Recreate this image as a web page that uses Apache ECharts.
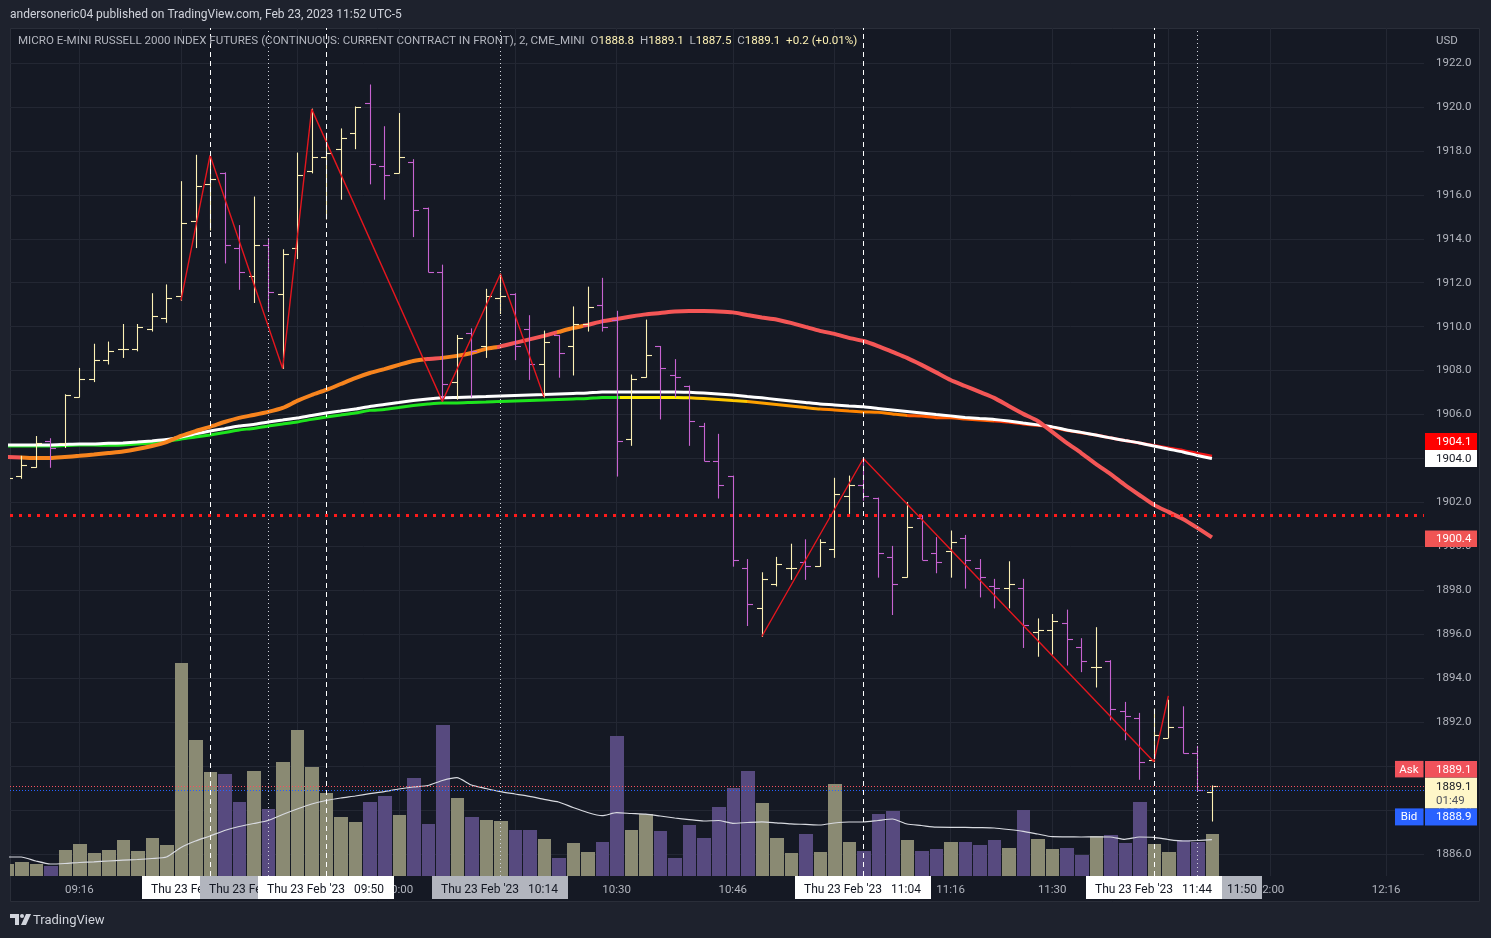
<!DOCTYPE html>
<html><head><meta charset="utf-8">
<script src="https://cdn.jsdelivr.net/npm/echarts@6/dist/echarts.min.js"></script>
<style>html,body{margin:0;padding:0;background:#1e222d;}#c{width:1491px;height:938px;}</style>
</head><body><div id="c"></div>
<script>
// ---------------- DATA ----------------
const times = [
'09:06','09:08','09:10','09:12','09:14','09:16','09:18','09:20','09:22','09:24',
'09:26','09:28','09:30','09:32','09:34','09:36','09:38','09:40','09:42','09:44',
'09:46','09:48','09:50','09:52','09:54','09:56','09:58','10:00','10:02','10:04',
'10:06','10:08','10:10','10:12','10:14','10:16','10:18','10:20','10:22','10:24',
'10:26','10:28','10:30','10:32','10:34','10:36','10:38','10:40','10:42','10:44',
'10:46','10:48','10:50','10:52','10:54','10:56','10:58','11:00','11:02','11:04',
'11:06','11:08','11:10','11:12','11:14','11:16','11:18','11:20','11:22','11:24',
'11:26','11:28','11:30','11:32','11:34','11:36','11:38','11:40','11:42','11:44',
'11:46','11:48','11:50','11:52'];
const opens = [
1902.9,1903.2,1903.6,1904.8,1904.7,1906.8,1907.6,1908.5,1909.0,1909.0,
1909.9,1910.4,1911.4,1914.8,1916.5,1917.0,1913.6,1912.3,1913.7,1911.5,
1913.6,1917.1,1917.7,1918.1,1918.8,1920.2,1917.3,1917.0,1917.5,1915.4,
1912.5,1907.5,1909.7,1909.1,1911.3,1911.5,1909.9,1908.3,1909.6,1909.1,
1910.1,1911.0,1910.3,1904.9,1907.7,1909.1,1907.8,1907.3,1905.5,1903.9,
1903.2,1899.0,1897.2,1898.3,1899.0,1899.3,1899.1,1899.9,1902.3,1902.8,
1902.2,1899.5,1898.6,1901.3,1899.7,1899.8,1900.4,1899.0,1898.2,1898.1,
1898.1,1896.1,1896.2,1896.5,1895.4,1894.5,1894.8,1892.5,1892.2,1890.3,
1891.3,1891.8,1890.6,1888.8];
const highs = [
1903.3,1904.1,1905.0,1904.9,1906.9,1908.1,1909.2,1909.3,1910.1,1910.1,
1911.5,1911.9,1916.6,1917.8,1917.8,1917.0,1914.6,1915.9,1914.0,1913.5,
1917.9,1919.9,1918.8,1919.0,1920.0,1921.0,1919.1,1919.7,1917.6,1915.4,
1912.8,1909.6,1909.9,1911.7,1912.4,1911.5,1910.5,1909.8,1909.6,1910.9,
1911.8,1912.2,1910.7,1907.8,1910.3,1909.1,1908.5,1907.3,1905.6,1905.1,
1903.2,1899.4,1898.8,1899.5,1900.1,1900.3,1900.3,1903.1,1903.2,1904.0,
1902.2,1900.0,1902.0,1901.4,1900.4,1900.7,1900.5,1899.4,1898.5,1899.3,
1898.5,1896.7,1896.9,1897.1,1895.8,1896.3,1894.8,1892.9,1892.4,1892.6,
1893.0,1892.7,1890.9,1889.1];
const lows = [
1902.8,1903.1,1903.6,1903.6,1904.5,1906.8,1907.5,1908.3,1908.6,1908.9,
1909.8,1910.2,1911.2,1913.6,1914.4,1912.9,1911.7,1911.1,1910.7,1908.1,
1913.1,1917.0,1914.9,1915.8,1918.1,1916.5,1915.8,1917.0,1914.1,1912.5,
1906.6,1906.7,1906.8,1908.6,1910.6,1908.5,1907.6,1906.8,1907.7,1907.8,
1909.8,1909.8,1903.2,1904.6,1907.7,1905.8,1906.8,1904.6,1903.9,1902.2,
1899.1,1896.4,1895.9,1898.2,1898.5,1898.5,1899.1,1899.5,1901.5,1902.1,
1898.6,1896.9,1898.6,1899.4,1898.8,1898.6,1898.1,1897.7,1897.2,1897.2,
1895.4,1895.0,1895.1,1894.6,1894.3,1893.6,1892.1,1891.2,1889.4,1890.2,
1891.3,1890.6,1888.9,1887.5];
const closes = [
1903.1,1903.7,1904.7,1904.5,1906.9,1907.6,1908.5,1908.9,1909.0,1910.0,
1910.5,1911.3,1914.7,1916.4,1916.7,1913.7,1912.5,1913.7,1911.6,1913.3,
1916.9,1917.7,1917.9,1918.6,1920.0,1917.4,1916.9,1917.7,1915.3,1912.5,
1907.4,1909.5,1908.9,1911.4,1911.4,1909.1,1908.3,1909.3,1908.8,1910.1,
1910.9,1910.0,1904.8,1907.6,1908.7,1908.1,1907.7,1905.7,1903.9,1902.8,
1899.4,1897.4,1898.5,1899.2,1899.0,1899.1,1900.2,1902.4,1902.8,1902.3,
1899.7,1898.3,1900.9,1899.4,1899.3,1900.2,1899.4,1898.6,1898.1,1898.3,
1896.4,1896.2,1896.6,1895.8,1894.8,1894.5,1892.6,1892.3,1890.2,1891.4,
1891.8,1890.6,1888.9,1889.1];
const volumes = [
12,14,12,10,26,32,23,26,36,25,
38,31,213,136,104,102,74,105,67,114,
146,109,83,59,54,74,80,61,98,52,
151,78,59,56,55,46,46,37,18,33,
24,34,140,46,62,45,18,51,38,69,
88,105,73,38,23,42,24,92,34,25,
62,65,36,25,27,34,34,31,36,28,
66,37,27,28,21,40,41,33,74,32,
24,36,34,42];
const volumeMA = [
19,19,15,12,12.5,13.5,14.2,15,15.8,16.5,
17.5,19,28.5,35,40,45.5,49.5,52.5,55.5,61.5,
67,72,75.5,78,80,82.3,84.4,87,89,90.5,
95.5,98.3,91,87.5,84.3,82,79.7,76.7,74,68.5,
63.5,60.3,63.3,62.5,61.8,60,58,56.4,55,55.5,
52.7,53.5,54.2,53.2,52.1,51.6,51,53,54,54,
55.5,57,52,50.5,48.8,48.7,48.7,48.4,48,46.5,
44.7,42,39.3,39.2,39,39.1,39,36.7,39,38.7,
36.5,35,35.5,36.3];
const maFast = [
1904.07,1904.05,1904.02,1904.02,1904.07,1904.12,1904.18,1904.25,1904.32,1904.43,
1904.57,1904.75,1905.03,1905.25,1905.44,1905.66,1905.85,1905.98,1906.12,1906.30,
1906.62,1906.89,1907.12,1907.39,1907.66,1907.89,1908.07,1908.26,1908.44,1908.53,
1908.58,1908.67,1908.80,1908.99,1909.10,1909.26,1909.42,1909.58,1909.76,1909.94,
1910.08,1910.24,1910.35,1910.46,1910.56,1910.62,1910.69,1910.71,1910.71,1910.69,
1910.65,1910.53,1910.42,1910.33,1910.17,1909.99,1909.81,1909.67,1909.49,1909.35,
1909.12,1908.85,1908.58,1908.26,1907.92,1907.57,1907.30,1907.03,1906.76,1906.39,
1906.03,1905.71,1905.21,1904.71,1904.25,1903.75,1903.30,1902.80,1902.34,1901.89,
1901.57,1901.25,1900.84,1900.41];
const maWhite = [
1904.62,1904.62,1904.62,1904.62,1904.64,1904.66,1904.66,1904.69,1904.71,1904.75,
1904.80,1904.86,1904.98,1905.12,1905.25,1905.36,1905.48,1905.55,1905.66,1905.75,
1905.84,1905.96,1906.07,1906.16,1906.25,1906.37,1906.46,1906.55,1906.64,1906.71,
1906.76,1906.78,1906.80,1906.82,1906.85,1906.87,1906.89,1906.91,1906.94,1906.96,
1906.98,1907.03,1907.03,1907.03,1907.03,1907.03,1907.03,1907.01,1906.98,1906.94,
1906.89,1906.82,1906.76,1906.69,1906.62,1906.55,1906.48,1906.44,1906.39,1906.35,
1906.28,1906.21,1906.14,1906.07,1906.00,1905.94,1905.87,1905.82,1905.78,1905.71,
1905.62,1905.53,1905.44,1905.30,1905.19,1905.07,1904.94,1904.82,1904.71,1904.57,
1904.43,1904.30,1904.14,1904.00];
const maSlow = [
1904.57,1904.57,1904.57,1904.57,1904.59,1904.61,1904.61,1904.60,1904.62,1904.66,
1904.71,1904.77,1904.89,1904.98,1905.07,1905.18,1905.30,1905.37,1905.48,1905.57,
1905.66,1905.78,1905.89,1905.98,1906.07,1906.19,1906.23,1906.32,1906.41,1906.48,
1906.53,1906.53,1906.55,1906.57,1906.60,1906.62,1906.64,1906.66,1906.69,1906.71,
1906.73,1906.78,1906.78,1906.78,1906.78,1906.78,1906.78,1906.76,1906.73,1906.69,
1906.64,1906.59,1906.53,1906.46,1906.39,1906.32,1906.25,1906.21,1906.16,1906.12,
1906.10,1906.03,1905.96,1905.93,1905.86,1905.85,1905.80,1905.75,1905.71,1905.66,
1905.57,1905.51,1905.42,1905.28,1905.17,1905.07,1904.94,1904.82,1904.71,1904.59,
1904.48,1904.37,1904.23,1904.10];
const zigzagA = [['09:30',1911.2],['09:34',1917.8],['09:44',1908.1],['09:48',1919.9],['10:06',1906.6],['10:14',1912.4],['10:20',1906.8]];
const zigzagB = [['10:50',1895.9],['11:04',1904.0],['11:44',1890.2],['11:46',1893.2]];
const priceTicks = [1886,1888,1890,1892,1894,1896,1898,1900,1902,1904,1906,1908,1910,1912,1914,1916,1918,1920,1922];
const timeTicks = ['09:16','09:30','09:46','10:00','10:16','10:30','10:46','11:00','11:16','11:30','11:46','12:00','12:16'];
const dashedTimes = ['09:34','09:50','11:04','11:44'];
const dottedTimes = ['09:42','10:14','11:50'];
const flagTimes = ['09:34','09:42','09:50','10:14','11:04','11:44'];
const flagDate = "Thu 23 Feb '23";
const levelPrice = 1901.43;
const askPrice = 1889.1, bidPrice = 1888.9;
const countdown = '01:49';

// ---------------- CHART ----------------
const FONT = 'Roboto, "Noto Sans", sans-serif';
const UP = '#fdf1b4', DOWN = '#c663d1';
const VUP = '#8a8a73', VDOWN = '#574a7f';
const toMin = t => { const p = t.split(':'); return (+p[0] - 9) * 60 + (+p[1]); };
const fmtMin = m => { const h = 9 + Math.floor(m / 60), mm = Math.round(m % 60); return String(h).padStart(2, '0') + ':' + String(mm).padStart(2, '0'); };

const xs = times.map(toMin);
const n = times.length;
const last = n - 1;
const chg = closes[last] - closes[last - 1];
const pct = chg / closes[last - 1] * 100;

const ohlcData = xs.map((x, i) => [x, opens[i], highs[i], lows[i], closes[i]]);
const volData = xs.map((x, i) => [x, volumes[i], closes[i] >= opens[i] ? 1 : 0]);
const pair = arr => xs.map((x, i) => [x, arr[i]]);

const chart = echarts.init(document.getElementById('c'));

const vLine = (t, type, color) => ({ xAxis: toMin(t), lineStyle: { type, color, width: 1 } });

chart.setOption({
  animation: false,
  backgroundColor: '#1e222d',
  title: [
    { text: 'andersoneric04 published on TradingView.com, Feb 23, 2023 11:52 UTC-5', left: 10, top: 7, padding: 0,
      textStyle: { color: '#d1d4dc', fontSize: 12, fontWeight: 'normal', fontFamily: FONT, lineHeight: 16 } },
    { text: '{t|MICRO E-MINI RUSSELL 2000 INDEX FUTURES (CONTINUOUS: CURRENT CONTRACT IN FRONT), 2, CME_MINI}  ' +
            '{k|O}{v|' + opens[last].toFixed(1) + '}  {k|H}{v|' + highs[last].toFixed(1) + '}  {k|L}{v|' + lows[last].toFixed(1) +
            '}  {k|C}{v|' + closes[last].toFixed(1) + '}  {v|' + (chg >= 0 ? '+' : '') + chg.toFixed(1) + ' (' + (pct >= 0 ? '+' : '') + pct.toFixed(2) + '%)}',
      left: 18, top: 34, padding: 0, z: 20,
      textStyle: { fontSize: 11.6, fontFamily: FONT, fontWeight: 'normal', lineHeight: 15,
        rich: { t: { color: '#b2b5be', fontSize: 11.6, fontFamily: FONT },
                k: { color: '#b2b5be', fontSize: 11.6, fontFamily: FONT },
                v: { color: '#fdf1b4', fontSize: 11.6, fontFamily: FONT } } } }
  ],
  grid: { left: 10, right: 67, top: 28, bottom: 62, containLabel: false },
  xAxis: {
    type: 'value', min: 6.448, max: 201.21,
    axisLine: { show: false },
    axisTick: { show: false, customValues: timeTicks.map(toMin) },
    axisLabel: { customValues: timeTicks.map(toMin), formatter: v => fmtMin(v), color: '#b2b5be', fontSize: 11.5, fontFamily: FONT, margin: 8 },
    splitLine: { show: true, lineStyle: { color: '#232733', width: 1 } }
  },
  yAxis: [
    { type: 'value', position: 'right', min: 1884.999, max: 1923.593,
      axisLine: { show: false },
      axisTick: { show: false, customValues: priceTicks },
      axisLabel: { customValues: priceTicks, formatter: v => v.toFixed(1), color: '#b2b5be', fontSize: 11.5, fontFamily: FONT, margin: 12 },
      splitLine: { show: true, lineStyle: { color: '#232733', width: 1 } } },
    { type: 'value', min: 0, max: 848, show: false, splitLine: { show: false } }
  ],
  visualMap: [
    { type: 'piecewise', show: false, seriesIndex: 4, dimension: 0,
      pieces: [
        { lt: 7.8, color: '#f45656' }, { gte: 7.8, lt: 63.6, color: '#f7841e' },
        { gte: 63.6, lt: 65.7, color: '#f45656' }, { gte: 65.7, lt: 73.5, color: '#f7841e' },
        { gte: 73.5, lt: 81.8, color: '#f45656' }, { gte: 81.8, lt: 85.4, color: '#f7841e' },
        { gte: 85.4, color: '#f45656' } ] },
    { type: 'piecewise', show: false, seriesIndex: 2, dimension: 0,
      pieces: [
        { lt: 90.5, color: '#1ee51e' }, { gte: 90.5, lt: 100, color: '#ffee00' },
        { gte: 100, lt: 108, color: '#ffc800' }, { gte: 108, lt: 118, color: '#ffa000' },
        { gte: 118, lt: 130, color: '#ff8400' }, { gte: 130, lt: 142, color: '#ff5a00' },
        { gte: 142, lt: 156, color: '#ff3300' }, { gte: 156, color: '#f01616' } ] }
  ],
  series: [
    { type: 'custom', name: 'Volume', xAxisIndex: 0, yAxisIndex: 1, z: 1, clip: true,
      data: volData, encode: { x: 0, y: 1 },
      renderItem: (params, api) => {
        const x = api.value(0), v = api.value(1), up = api.value(2);
        const top = api.coord([x, v]), base = api.coord([x, 0]);
        const half = api.size([2, 0])[0] / 2;
        const l = Math.round(top[0] - half) + 1, r = Math.round(top[0] + half);
        return { type: 'rect', shape: { x: l, y: top[1], width: r - l, height: base[1] - top[1] }, style: { fill: up ? VUP : VDOWN } };
      } },
    { type: 'line', name: 'Vol MA', xAxisIndex: 0, yAxisIndex: 1, z: 2, data: pair(volumeMA), showSymbol: false,
      lineStyle: { color: '#d8dae0', width: 1.2 }, smooth: 0.2 },
    { type: 'line', name: 'MA slow', z: 3, data: pair(maSlow), showSymbol: false, smooth: 0.2, lineStyle: { width: 3 } },
    { type: 'line', name: 'MA white', z: 4, data: pair(maWhite), showSymbol: false, smooth: 0.2, lineStyle: { width: 3, color: '#ffffff' } },
    { type: 'line', name: 'MA fast', z: 5, data: pair(maFast), showSymbol: false, smooth: 0.2, lineStyle: { width: 4 } },
    { type: 'custom', name: 'OHLC', z: 6, clip: true, data: ohlcData, encode: { x: 0, y: [1, 2, 3, 4] },
      renderItem: (params, api) => {
        const x = api.value(0), o = api.value(1), h = api.value(2), l = api.value(3), c = api.value(4);
        const pH = api.coord([x, h]), pL = api.coord([x, l]), pO = api.coord([x, o]), pC = api.coord([x, c]);
        const cx = Math.round(pH[0]) + 0.5;
        const r = v => Math.round(v) + 0.5;
        const col = c >= o ? UP : DOWN;
        const st = { stroke: col, lineWidth: 1.1 };
        return { type: 'group', children: [
          { type: 'line', shape: { x1: cx, y1: pH[1] - 0.5, x2: cx, y2: pL[1] + 0.5 }, style: st },
          { type: 'line', shape: { x1: cx - 5.5, y1: r(pO[1]), x2: cx, y2: r(pO[1]) }, style: st },
          { type: 'line', shape: { x1: cx, y1: r(pC[1]), x2: cx + 5.5, y2: r(pC[1]) }, style: st } ] };
      } },
    { type: 'line', name: 'Zigzag A', z: 7, data: zigzagA.map(p => [toMin(p[0]), p[1]]), showSymbol: false,
      lineStyle: { color: '#e3161e', width: 1.4 },
      markLine: { silent: true, symbol: 'none', label: { show: false }, z: 8,
        data: [
          ...dashedTimes.map(t => vLine(t, [5, 4], '#ffffff')),
          ...dottedTimes.map(t => vLine(t, [1, 3], '#d1d4dc')),
          { yAxis: levelPrice, lineStyle: { type: [3, 6], color: '#ff1a1a', width: 3 } },
          { yAxis: askPrice, lineStyle: { type: [1, 2], color: '#f7525f', width: 1 } },
          { yAxis: bidPrice, lineStyle: { type: [1, 2], color: '#2962ff', width: 1 } }
        ] } },
    { type: 'line', name: 'Zigzag B', z: 7, data: zigzagB.map(p => [toMin(p[0]), p[1]]), showSymbol: false,
      lineStyle: { color: '#e3161e', width: 1.4 } }
  ]
});

// ---------------- OVERLAY LABELS ----------------
const px = m => chart.convertToPixel({ xAxisIndex: 0 }, m);
const py = v => chart.convertToPixel({ yAxisIndex: 0 }, v);
const g = [];
const rect = (x, y, w, h, fill, z) => ({ type: 'rect', silent: true, z: z || 50, shape: { x, y, width: w, height: h }, style: { fill } });
const text = (x, y, s, fill, align, size, z) => ({ type: 'text', silent: true, z: z || 51, x, y,
  style: { text: s, fill, font: (size || 11.5) + 'px ' + FONT, align: align || 'left', verticalAlign: 'middle', textAlign: align || 'left', textVerticalAlign: 'middle' } });

// panel
g.push({ type: 'rect', silent: true, z: -10, shape: { x: 10.5, y: 28.5, width: 1469, height: 873 }, style: { fill: '#151924', stroke: '#2a2e39', lineWidth: 1 } });

// price axis tags
const axX = 1425, axW = 52, tx = 1436;
const yW = py(maWhite[last]);
g.push(rect(axX, yW - 8.5, axW, 17, '#ffffff'), text(tx, yW + 0.5, maWhite[last].toFixed(1), '#131722'));
g.push(rect(axX, yW - 25.5, axW, 17, '#ff0000'), text(tx, yW - 16.5, maSlow[last].toFixed(1), '#ffffff'));
const yF = py(maFast[last]);
g.push(rect(axX, yF - 7, axW, 16.5, '#f05454'), text(tx, yF + 1.5, maFast[last].toFixed(1), '#ffffff'));
const yC = py(closes[last]);
g.push(rect(axX, yC - 8.5, axW, 31, '#fff7c8'), text(tx, yC + 1, closes[last].toFixed(1), '#131722'), text(tx, yC + 15.5, countdown, '#50535e'));
g.push(rect(axX, yC - 25, axW, 16.5, '#f0525b'), text(tx, yC - 16.2, askPrice.toFixed(1), '#ffffff'));
g.push(rect(1395, yC - 25, 28.5, 16.5, '#f0525b'), text(1409, yC - 16.2, 'Ask', '#ffffff', 'center'));
g.push(rect(axX, yC + 22.5, axW, 17, '#2962ff'), text(tx, yC + 31.5, bidPrice.toFixed(1), '#ffffff'));
g.push(rect(1395, yC + 22.5, 28.5, 17, '#2962ff'), text(1409, yC + 31.5, 'Bid', '#ffffff', 'center'));
g.push(text(1436, 41, 'USD', '#b2b5be'));

// time axis flags
const flagBg = ['#ffffff', '#b2b5be', '#ffffff', '#b2b5be', '#ffffff', '#ffffff'];
flagTimes.forEach((t, i) => {
  const cx = px(toMin(t));
  const bx = Math.round(cx - 68);
  g.push(rect(bx, 876, 136, 23, flagBg[i], 60 + i * 2));
  g.push(text(bx + 9, 889.5, flagDate, '#131722', 'left', 12, 61 + i * 2));
  g.push(text(bx + 126, 889.5, t, '#131722', 'right', 12, 61 + i * 2));
});
{
  const bx = Math.round(px(toMin('11:44')) + 68);
  g.push(rect(bx, 876, 40, 23, '#b2b5be', 80));
  g.push(text(bx + 20, 889.5, dottedTimes[2], '#131722', 'center', 12, 81));
}

// TradingView logo
g.push({ type: 'polygon', silent: true, z: 50, shape: { points: [[10, 914], [19, 914], [19, 925], [15, 925], [15, 918], [10, 918]] }, style: { fill: '#d1d4dc' } });
g.push({ type: 'circle', silent: true, z: 50, shape: { cx: 22, cy: 916, r: 2 }, style: { fill: '#d1d4dc' } });
g.push({ type: 'polygon', silent: true, z: 50, shape: { points: [[26, 914], [31, 914], [26, 925], [21, 925]] }, style: { fill: '#d1d4dc' } });
g.push(text(33, 920.5, 'TradingView', '#d1d4dc', 'left', 13));

chart.setOption({ graphic: g });
</script>
</body></html>
